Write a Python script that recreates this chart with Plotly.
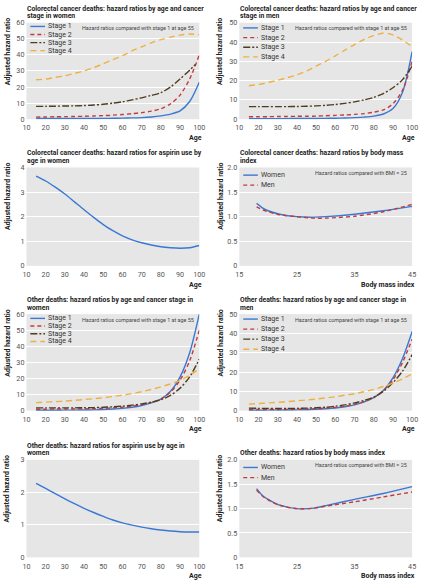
import plotly.graph_objects as go

# ---------------- data ----------------
age = [15, 20, 25, 30, 35, 40, 45, 50, 55, 60, 65, 70, 75, 80, 85, 90, 95, 100]
age_s3w = [15, 20, 25, 30, 35, 40, 45, 50, 55, 60, 65, 70, 75, 80, 85, 90, 95, 98]
stage_names = ["Stage 1", "Stage 2", "Stage 3", "Stage 4"]

# Colorectal cancer deaths, women
crc_w_s1 = [0.4, 0.4, 0.4, 0.4, 0.4, 0.45, 0.45, 0.5, 0.55, 0.65, 0.8, 1.0, 1.4, 2.1, 3.2, 5.2, 11, 23]
crc_w_s2 = [1.3, 1.4, 1.5, 1.6, 1.7, 1.8, 2.0, 2.2, 2.5, 2.9, 3.4, 4.1, 5.0, 6.5, 9.5, 15, 25, 40]
crc_w_s3 = [8.0, 8.0, 8.1, 8.2, 8.3, 8.5, 8.8, 9.3, 10.0, 10.8, 12.0, 13.3, 14.8, 16.5, 20, 25, 30.5, 34]
crc_w_s4 = [24.5, 25, 26, 27, 28.5, 30, 32, 34.5, 37, 39.5, 42.5, 45, 47.5, 49.5, 51, 52.3, 53, 52.5]

# Colorectal cancer deaths, men
crc_m_s1 = [0.3, 0.3, 0.3, 0.3, 0.3, 0.35, 0.35, 0.4, 0.45, 0.5, 0.6, 0.8, 1.1, 1.6, 2.7, 5.5, 14, 35]
crc_m_s2 = [1.3, 1.3, 1.3, 1.4, 1.4, 1.5, 1.5, 1.6, 1.8, 2.0, 2.2, 2.5, 2.9, 3.6, 4.8, 8.0, 15, 30]
crc_m_s3 = [6.5, 6.5, 6.5, 6.5, 6.5, 6.6, 6.7, 6.9, 7.2, 7.6, 8.2, 9.0, 10.0, 11.3, 13.3, 16.3, 20.5, 27.5]
crc_m_s4 = [17.3, 18, 19, 20.2, 21.5, 23, 25, 27.5, 30, 32.8, 35.8, 38.7, 41.3, 43.3, 44.5, 43.7, 41, 37.5]

# Colorectal cancer deaths, aspirin use in women
crc_asp = [3.65, 3.45, 3.2, 2.92, 2.6, 2.28, 1.97, 1.68, 1.43, 1.22, 1.06, 0.94, 0.85, 0.78, 0.74, 0.72, 0.74, 0.83]

# Body mass index
bmi = [18, 19, 20, 22, 25, 28, 30, 35, 40, 45]
crc_bmi_w = [1.27, 1.18, 1.12, 1.05, 1.0, 0.99, 1.0, 1.05, 1.12, 1.21]
crc_bmi_m = [1.2, 1.14, 1.1, 1.04, 1.0, 0.97, 0.97, 1.01, 1.1, 1.25]

# Other deaths, women
oth_w_s1 = [0.2, 0.2, 0.25, 0.3, 0.35, 0.4, 0.5, 0.7, 1.0, 1.4, 2.1, 3.2, 4.8, 7.2, 12, 21, 36, 60]
oth_w_s2 = [0.9, 0.9, 1.0, 1.0, 1.05, 1.1, 1.2, 1.4, 1.7, 2.1, 2.8, 3.7, 5.1, 7.2, 11.5, 19, 31, 50]
oth_w_s3 = [1.7, 1.7, 1.7, 1.7, 1.75, 1.8, 1.9, 2.1, 2.4, 2.8, 3.4, 4.2, 5.3, 6.8, 9.5, 14, 21, 32]
oth_w_s4 = [5.0, 5.3, 5.6, 6.0, 6.4, 6.9, 7.4, 8.0, 8.8, 9.6, 10.6, 11.8, 13.2, 14.8, 16.6, 18.8, 22, 26]

# Other deaths, men
oth_m_s1 = [0.2, 0.2, 0.25, 0.3, 0.35, 0.4, 0.5, 0.7, 1.0, 1.4, 2.0, 3.0, 4.5, 6.8, 10.5, 17, 27, 41]
oth_m_s2 = [0.6, 0.6, 0.6, 0.6, 0.65, 0.7, 0.8, 1.0, 1.3, 1.7, 2.3, 3.3, 4.7, 6.8, 10.3, 16, 25, 37]
oth_m_s3 = [1.3, 1.2, 1.15, 1.1, 1.1, 1.2, 1.3, 1.5, 1.8, 2.3, 3.0, 4.0, 5.3, 7.0, 10, 14.5, 20.5, 29]
oth_m_s4 = [3.4, 3.7, 4.0, 4.3, 4.7, 5.1, 5.5, 6.0, 6.6, 7.2, 8.0, 8.8, 9.8, 11, 12.5, 14.3, 16.5, 19]

# Other deaths, aspirin use in women
oth_asp = [2.28, 2.12, 1.96, 1.8, 1.65, 1.51, 1.38, 1.26, 1.15, 1.06, 0.99, 0.93, 0.88, 0.84, 0.81, 0.79, 0.78, 0.78]

# Other deaths, body mass index
oth_bmi_w = [1.41, 1.27, 1.19, 1.07, 1.0, 1.01, 1.06, 1.19, 1.31, 1.45]
oth_bmi_m = [1.38, 1.26, 1.18, 1.07, 1.0, 1.01, 1.05, 1.14, 1.24, 1.34]

age_ticks = [10, 20, 30, 40, 50, 60, 70, 80, 90, 100]
bmi_ticks = [15, 25, 35, 45]

# ---------------- styling ----------------
W, H = 424, 585
FONT = "Roboto, sans-serif"
TICKFONT = "Roboto, sans-serif"
BG = "#e6e6e6"
STAGE_COL = ["#3a78d4", "#c23b3d", "#4d3d1e", "#efb040"]
STAGE_DASH = ["solid", "4px,3px", "7px,2px,2px,2px", "6px,4px"]
SEX_COL = ["#3a78d4", "#c23b3d"]
SEX_DASH = ["solid", "4px,3px"]
LW = 1.4


def px(x):
    return x / W


def py(y):
    return 1 - y / H


LX = (23, 200)
RX = (241, 418)
rows = [(19, 117), (166, 266), (315, 413), (463, 562)]

panels = [
    dict(xd=LX, yd=rows[0], yr=60, ydt=10, kind="age",
         title=["Colorectal cancer deaths: hazard ratios by age and cancer", "stage in women"],
         series=[(age, crc_w_s1), (age, crc_w_s2), (age_s3w, crc_w_s3), (age, crc_w_s4)],
         names=stage_names, cols=STAGE_COL, dashes=STAGE_DASH, leg_sp=8.2, leg_off=3.8,
         note="Hazard ratios compared with stage 1 at age 55"),
    dict(xd=RX, yd=rows[0], yr=50, ydt=10, kind="age",
         title=["Colorectal cancer deaths: hazard ratios by age and cancer", "stage in men"],
         series=[(age, crc_m_s1), (age, crc_m_s2), (age, crc_m_s3), (age, crc_m_s4)],
         names=stage_names, cols=STAGE_COL, dashes=STAGE_DASH, leg_sp=9.8, leg_off=5.3,
         note="Hazard ratios compared with stage 1 at age 55"),
    dict(xd=LX, yd=rows[1], yr=4, ydt=1, kind="age",
         title=["Colorectal cancer deaths: hazard ratios for aspirin use by", "age in women"],
         series=[(age, crc_asp)], names=None, cols=[STAGE_COL[0]], dashes=["solid"]),
    dict(xd=RX, yd=rows[1], yr=2, ydt=0.5, kind="bmi",
         title=["Colorectal cancer deaths: hazard ratios by body mass", "index"],
         series=[(bmi, crc_bmi_w), (bmi, crc_bmi_m)], names=["Women", "Men"],
         cols=SEX_COL, dashes=SEX_DASH, leg_sp=10.2, leg_off=7.8,
         note="Hazard ratios compared with BMI = 25"),
    dict(xd=LX, yd=rows[2], yr=60, ydt=10, kind="age",
         title=["Other deaths: hazard ratios by age and cancer stage in", "women"],
         series=[(age, oth_w_s1), (age, oth_w_s2), (age, oth_w_s3), (age, oth_w_s4)],
         names=stage_names, cols=STAGE_COL, dashes=STAGE_DASH, leg_sp=7.8, leg_off=4.3,
         note="Hazard ratios compared with stage 1 at age 55"),
    dict(xd=RX, yd=rows[2], yr=50, ydt=10, kind="age",
         title=["Other deaths: hazard ratios by age and cancer stage in", "men"],
         series=[(age, oth_m_s1), (age, oth_m_s2), (age, oth_m_s3), (age, oth_m_s4)],
         names=stage_names, cols=STAGE_COL, dashes=STAGE_DASH, leg_sp=10.2, leg_off=5.0,
         note="Hazard ratios compared with stage 1 at age 55"),
    dict(xd=LX, yd=rows[3], yr=3, ydt=1, kind="age",
         title=["Other deaths: hazard ratios for aspirin use by age in", "women"],
         series=[(age, oth_asp)], names=None, cols=[STAGE_COL[0]], dashes=["solid"]),
    dict(xd=RX, yd=rows[3], yr=2, ydt=0.5, kind="bmi",
         title=["Other deaths: hazard ratios by body mass index"],
         series=[(bmi, oth_bmi_w), (bmi, oth_bmi_m)], names=["Women", "Men"],
         cols=SEX_COL, dashes=SEX_DASH, leg_sp=10.3, leg_off=7.7,
         note="Hazard ratios compared with BMI = 25"),
]

fig = go.Figure()
annotations = []
shapes = []
layout = {}

for i, p in enumerate(panels):
    n = i + 1
    xa = "xaxis" if n == 1 else f"xaxis{n}"
    ya = "yaxis" if n == 1 else f"yaxis{n}"
    xr = "x" if n == 1 else f"x{n}"
    yr_ = "y" if n == 1 else f"y{n}"
    x0, x1 = p["xd"]
    ytop, ybot = p["yd"]

    if p["kind"] == "age":
        xrange = [10, 100]
        xt = age_ticks
        xtitle = "Age"
    else:
        xrange = [15, 45]
        xt = bmi_ticks
        xtitle = "Body mass index"

    nt = int(round(p["yr"] / p["ydt"])) + 1
    yvals = [round(k * p["ydt"], 2) for k in range(nt)]
    if p["ydt"] < 1:
        ytext = ["0"] + [f"{v:.1f}" for v in yvals[1:]]
    else:
        ytext = [str(int(v)) for v in yvals]

    layout[xa] = dict(domain=[px(x0), px(x1)], anchor=yr_, range=xrange,
                      tickvals=xt, ticktext=[str(v) for v in xt],
                      showgrid=False, zeroline=False, showline=False, ticks="",
                      tickfont=dict(family=TICKFONT, size=7.2, color="#555555"),
                      ticklabelstandoff=3)
    layout[ya] = dict(domain=[py(ybot), py(ytop)], anchor=xr, range=[0, p["yr"]],
                      tickvals=yvals, ticktext=ytext,
                      showgrid=True, gridcolor="white", gridwidth=1,
                      zeroline=False, showline=False, ticks="",
                      tickfont=dict(family=TICKFONT, size=7.2, color="#555555"),
                      ticklabelstandoff=1)

    for j, (xs, ys) in enumerate(p["series"]):
        fig.add_trace(go.Scatter(
            x=xs, y=ys, mode="lines", xaxis=xr, yaxis=yr_, showlegend=False,
            line=dict(color=p["cols"][j], dash=p["dashes"][j], width=LW,
                      shape="spline", smoothing=0.8),
            name=p["names"][j] if p["names"] else "Aspirin",
        ))

    # title lines
    nlines = len(p["title"])
    for k, line in enumerate(p["title"]):
        yc = ytop - 6.5 - (nlines - 1 - k) * 7.7
        annotations.append(dict(text="<b>" + line + "</b>", xref="paper", yref="paper",
                                x=px(x0 - 1), y=py(yc), xanchor="left", yanchor="middle",
                                showarrow=False,
                                font=dict(family=FONT, size=6.8, color="#222222")))
    # y axis title
    annotations.append(dict(text="<b>Adjusted hazard ratio</b>", xref="paper", yref="paper",
                            x=px(x0 - 19), y=py(ytop - 7), xanchor="center", yanchor="top",
                            textangle=-90, showarrow=False,
                            font=dict(family=FONT, size=7.0, color="#222222")))
    # x axis title
    annotations.append(dict(text="<b>" + xtitle + "</b>", xref="paper", yref="paper",
                            x=px(x1 + 5), y=py(ybot + 19), xanchor="right", yanchor="middle",
                            showarrow=False,
                            font=dict(family=FONT, size=7.0, color="#222222")))
    # note
    if p.get("note"):
        annotations.append(dict(text=p["note"], xref="paper", yref="paper",
                                x=px(x1 - 3), y=py(ytop + 5.5), xanchor="right", yanchor="middle",
                                showarrow=False,
                                font=dict(family=FONT, size=5.4, color="#444444")))
    # legend
    if p["names"]:
        for j, nm in enumerate(p["names"]):
            yy = ytop + p["leg_off"] + j * p["leg_sp"]
            shapes.append(dict(type="line", xref="paper", yref="paper",
                               x0=px(x0 + 4), x1=px(x0 + 19), y0=py(yy), y1=py(yy),
                               line=dict(color=p["cols"][j], dash=p["dashes"][j], width=LW)))
            annotations.append(dict(text=nm, xref="paper", yref="paper",
                                    x=px(x0 + 20), y=py(yy), xanchor="left", yanchor="middle",
                                    showarrow=False,
                                    font=dict(family=FONT, size=7.0, color="#333333")))

fig.update_layout(
    width=W, height=H,
    margin=dict(l=0, r=0, t=0, b=0),
    paper_bgcolor="white", plot_bgcolor=BG,
    showlegend=False,
    annotations=annotations, shapes=shapes,
    **layout,
)

fig.write_html("out.html",
               config={"displayModeBar": False},
               post_script="document.body.style.margin='0';document.body.style.overflow='hidden';")
